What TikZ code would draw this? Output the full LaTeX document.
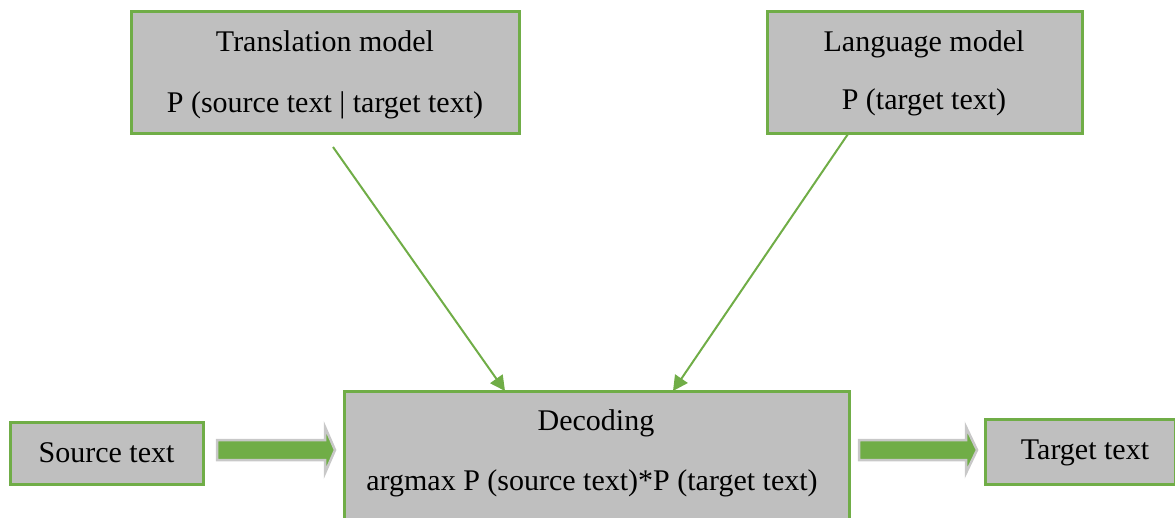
\documentclass[tikz,border=0pt]{standalone}
\usepackage{fontspec}
\setmainfont{Liberation Serif}
\usetikzlibrary{arrows.meta}
\definecolor{boxgreen}{HTML}{70AD47}
\definecolor{boxgray}{HTML}{BFBFBF}
\definecolor{rimgray}{HTML}{C8C8C8}
\tikzset{
  x=1pt, y=-1pt,
  modelbox/.style={draw=boxgreen, fill=boxgray, line width=3pt, rectangle, inner sep=0pt},
  label text/.style={anchor=base, inner sep=0pt, font=\fontsize{30}{36}\selectfont},
  flow/.style={draw=boxgreen, line width=2pt, -{Triangle[length=15pt,width=15pt]}},
  fatarrow/.style={fill=boxgreen, draw=rimgray, line width=2.5pt, line join=miter},
}
\begin{document}
\begin{tikzpicture}
\useasboundingbox (0,0) rectangle (1175,518);
\clip (0,0) rectangle (1175,518);

% model boxes
\node[modelbox, minimum width=388pt, minimum height=122pt] (tm) at (325,73) {};
\node[modelbox, minimum width=315pt, minimum height=122pt] (lm) at (924.5,73) {};
\node[modelbox, minimum width=505pt, minimum height=150pt] (dec) at (596.5,466) {};
\node[modelbox, minimum width=193pt, minimum height=62pt] (src) at (106.5,453) {};
\node[modelbox, minimum width=190pt, minimum height=65pt] (tgt) at (1080,451.5) {};

% box texts
\node[label text] (tm1) at (325,52) {Translation model};
\node[label text] (tm2) at (325,113) {P (source text | target text)};
\node[label text] (lm1) at (924,52) {Language model};
\node[label text] (lm2) at (924,110) {P (target text)};
\node[label text] (dec1) at (596,430) {Decoding};
\node[label text] (dec2) at (592,490) {argmax P (source text)*P (target text)};
\node[label text] (src1) at (106.5,462) {Source text};
\node[label text] (tgt1) at (1085,459) {Target text};

% connectors from the models into the decoder
\coordinate (tmfoot) at (333,147);
\coordinate (lmfoot) at (848,134);
\coordinate (decin1) at (505,391);
\coordinate (decin2) at (673,391);
\draw[flow] (tmfoot) -- (decin1);
\draw[flow] (lmfoot) -- (decin2);

% broad arrows for the text flow
\draw[fatarrow] (217,440) -- (325,440) -- (325,427) -- (335,450) -- (325,473) -- (325,460) -- (217,460) -- cycle;
\draw[fatarrow] (859,440) -- (966,440) -- (966,427) -- (977,450) -- (966,473) -- (966,460) -- (859,460) -- cycle;
\end{tikzpicture}
\end{document}
